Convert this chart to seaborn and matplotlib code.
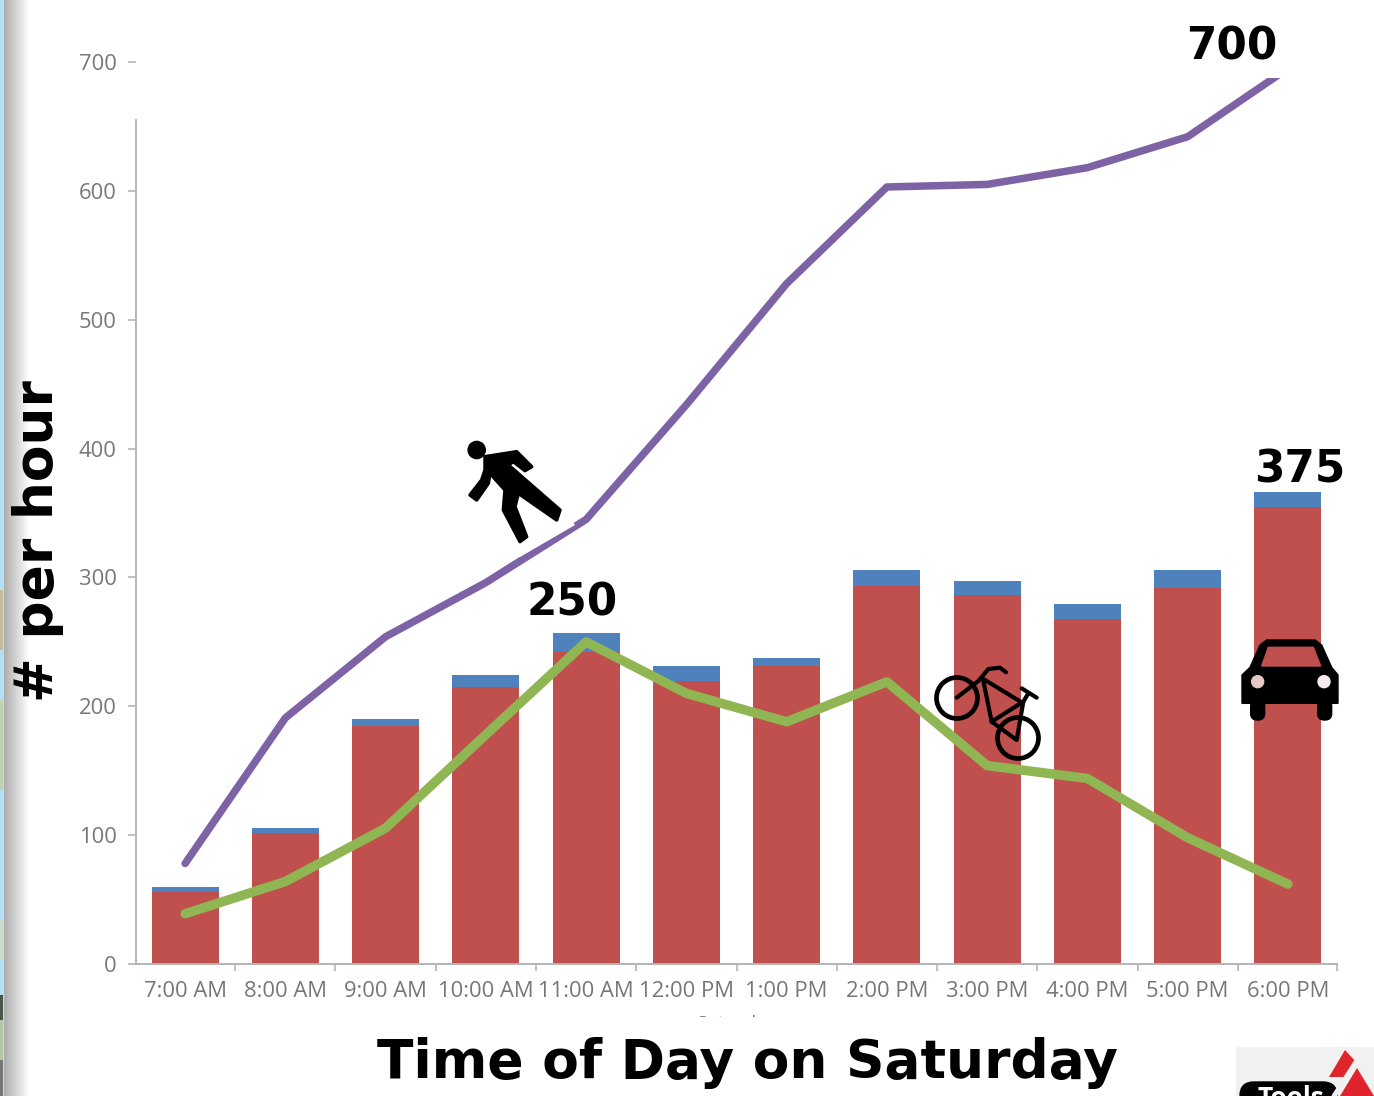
#---------------------------------------------------------------
"""
# Hourly counts on a Saturday
Cars as stacked bars, pedestrians and bicycles as lines, with the
icons and hand-placed labels of the original slide on top.
"""
#---------------------------------------------------------------
import matplotlib.pyplot as plt
import matplotlib.patches as mp
import numpy as np
import seaborn as sns

W, H = 1374, 1096

hours = ['7:00 AM', '8:00 AM', '9:00 AM', '10:00 AM', '11:00 AM', '12:00 PM',
         '1:00 PM', '2:00 PM', '3:00 PM', '4:00 PM', '5:00 PM', '6:00 PM']
cars = [56, 102, 185, 215, 242, 220, 231, 293, 286, 268, 292, 355]
cars_total = [60, 105.5, 190, 224, 257, 231, 237.5, 306, 297, 279, 306, 366]
pedestrians = [78, 191, 254, 296, 345, 434, 528, 603, 605, 618, 642, 695]
bicycles = [39, 64, 105.5, 178, 250, 210, 188, 219, 154, 144, 98, 62]
y_ticks = [0, 100, 200, 300, 400, 500, 600, 700]

RED = '#C0504D'
BLUE = '#4F81BD'
PURPLE = '#7D62A5'
GREEN = '#8FB653'
GREY_TEXT = '#777777'
AXIS = '#b4b4b4'
TICK_FONT = ['Open Sans', 'DejaVu Sans']


#---------------------------------------------------------------
def draw_chart(fig):
    ax = fig.add_axes([136 / W, 1 - 964 / H, (1337 - 136) / W, (964 - 62) / H])
    x = np.arange(len(hours))
    sns.barplot(x = hours, y = cars_total, color = BLUE, saturation = 1, width = 0.67, linewidth = 0, ax = ax)
    sns.barplot(x = hours, y = cars, color = RED, saturation = 1, width = 0.67, linewidth = 0, ax = ax)
    sns.lineplot(x = x, y = pedestrians, color = PURPLE, linewidth = 5.4, ax = ax, zorder = 5)
    sns.lineplot(x = x, y = bicycles, color = GREEN, linewidth = 6.8, ax = ax, zorder = 6)
    ax.set_xlim(-0.49, 11.49)
    ax.set_ylim(0, 700)
    ax.set_yticks(y_ticks)
    ax.set_xticks(x, hours)
    ax.set_xticks(np.append(x[1:] - 0.5, 11.49), minor = True)
    ax.tick_params(axis = 'x', which = 'major', length = 0, pad = 12, labelsize = 15.8, labelcolor = GREY_TEXT)
    ax.tick_params(axis = 'x', which = 'minor', bottom = True, length = 5, color = AXIS, width = 1.2)
    ax.tick_params(axis = 'y', left = True, length = 6, color = AXIS, width = 1.2, pad = 8,
                   labelsize = 15.8, labelcolor = GREY_TEXT)
    for t in ax.get_xticklabels() + ax.get_yticklabels():
        t.set_family(TICK_FONT)
    sns.despine(ax = ax, top = True, right = True)
    for s in ('left', 'bottom'):
        ax.spines[s].set_color(AXIS)
        ax.spines[s].set_linewidth(1.4)
    ax.spines['left'].set_bounds(0, 655)
    return ax


#---------------------------------------------------------------
def draw_edges(over):
    # slide edge on the left: desktop strip and soft shadow
    shade = np.linspace(0.68, 1, 26).reshape(1, -1)
    over.imshow(shade, cmap = 'gray', vmin = 0, vmax = 1, extent = (4, 30, H, 0), aspect = 'auto', zorder = 1)
    over.add_patch(mp.Rectangle((0, 0), 4, H, color = '#B5DFF5', lw = 0, zorder = 1))
    for y0, y1, c in [(590, 650, '#C5BC9C'), (700, 790, '#BFD3B4'), (920, 960, '#CBDACB'),
                      (995, 1020, '#4A564A'), (1020, 1060, '#B3C6A6'), (1060, 1096, '#777777')]:
        over.add_patch(mp.Rectangle((0, y0), 3, y1 - y0, color = c, lw = 0, zorder = 1))
    over.add_patch(mp.Rectangle((1290, 0), 84, 5, color = '#F3F3F3', lw = 0, zorder = 1))


#---------------------------------------------------------------
def draw_masks(over):
    # white patches pasted over the chart on the slide
    over.add_patch(mp.Rectangle((137, 0), 1237, 78, color = 'white', lw = 0, zorder = 2))
    over.add_patch(mp.Polygon([(575, 525), (520, 557), (452, 470), (500, 415)], color = 'white', lw = 0, zorder = 2))
    over.text(737, 1029, 'Saturday', fontsize = 14, color = GREY_TEXT, ha = 'center', va = 'baseline',
              family = TICK_FONT, zorder = 2)
    over.add_patch(mp.Rectangle((600, 1017), 300, 24, color = 'white', lw = 0, zorder = 3))


#---------------------------------------------------------------
def draw_walker(over):
    body = [(135, 110), (230, 95), (275, 140), (255, 152), (220, 125), (205, 135), (360, 270), (350, 300),
            (235, 220), (225, 260), (260, 350), (240, 365), (190, 270), (195, 210), (150, 160), (145, 190),
            (110, 240), (90, 225), (125, 180), (135, 150)]
    pts = [(440 + p[0] / 3, 420 + p[1] / 3) for p in body]
    over.add_patch(mp.Polygon(pts, fc = 'black', ec = 'black', lw = 2.5, joinstyle = 'round', zorder = 7))
    over.add_patch(mp.Circle((476.7, 450), 8.6, color = 'black', zorder = 7))


#---------------------------------------------------------------
def draw_bike(over):
    def px(pts):
        return [925 + p[0] / 3 for p in pts], [655 + p[1] / 3 for p in pts]
    for c in [(957, 698), (1018, 738)]:
        over.add_patch(mp.Circle(c, 20.5, fill = False, ec = 'black', lw = 3.4, zorder = 7))
    strokes = [[(95, 128), (160, 78), (190, 42), (225, 38), (243, 52)],
               [(175, 72), (290, 142)],
               [(175, 78), (200, 200), (295, 140), (275, 255), (200, 200)],
               [(290, 100), (335, 128)],
               [(310, 115), (295, 140)]]
    for pts in strokes:
        xs, ys = px(pts)
        over.plot(xs, ys, color = 'black', lw = 3, solid_capstyle = 'round', zorder = 7)


#---------------------------------------------------------------
def draw_car(over):
    def px(pts):
        return [(900 + p[0] / 3, 620 + p[1] / 3) for p in pts]
    shell = [(1026, 250), (1026, 165), (1050, 142), (1080, 75), (1100, 60), (1245, 60),
             (1265, 75), (1295, 142), (1314, 165), (1314, 250)]
    window = [(1085, 138), (1105, 82), (1240, 82), (1262, 138)]
    over.add_patch(mp.Polygon(px(shell), color = 'black', zorder = 7))
    over.add_patch(mp.Polygon(px(window), color = RED, zorder = 8))
    for cx in (1073, 1274):
        over.add_patch(mp.FancyBboxPatch(px([(cx - 21, 240)])[0], 14, 20, boxstyle = 'round,pad=0,rounding_size=6.5',
                                         color = 'black', zorder = 7))
    over.add_patch(mp.Circle(px([(1073, 185)])[0], 6, color = '#E8C8C6', zorder = 8))
    over.add_patch(mp.Circle(px([(1272, 185)])[0], 6, color = '#F6ECEC', zorder = 8))


#---------------------------------------------------------------
def draw_logo(over):
    over.add_patch(mp.Rectangle((1236, 1047), 138, 49, color = '#F1F1F1', lw = 0, zorder = 2))
    over.add_patch(mp.FancyBboxPatch((1240, 1082), 97, 30, boxstyle = 'round,pad=0,rounding_size=14',
                                     color = 'black', zorder = 3))
    over.add_patch(mp.Polygon([(1345, 1050), (1329, 1077), (1346, 1077), (1356, 1062)], color = '#E0242B', lw = 0, zorder = 3))
    over.add_patch(mp.Polygon([(1357, 1068), (1374, 1096), (1340, 1096)], color = '#E0242B', lw = 0, zorder = 3))
    over.plot([1356, 1334], [1062, 1096], color = '#F1F1F1', lw = 3.5, zorder = 4)
    over.text(1258, 1106, 'Tools', fontsize = 19, fontweight = 'bold', color = 'white', zorder = 5, va = 'baseline')


#---------------------------------------------------------------
def draw_labels(over):
    big = dict(color = 'black', fontweight = 'bold', family = 'DejaVu Sans', zorder = 9)
    for label, cx, cy in [('700', 1232, 47), ('375', 1300, 470), ('250', 572, 603)]:
        over.text(cx, cy, label, fontsize = 31.5, ha = 'center', va = 'center', **big)
    over.text(747, 1063, 'Time of Day on Saturday', fontsize = 38.4, ha = 'center', va = 'center', **big)
    over.text(38, 541, '# per hour', fontsize = 38.4, rotation = 90, ha = 'center', va = 'center', **big)


#---------------------------------------------------------------
def main():
    sns.set_style('white')
    plt.rcParams['font.family'] = TICK_FONT
    fig = plt.figure(figsize = (W / 100, H / 100), dpi = 100)
    draw_chart(fig)
    over = fig.add_axes([0, 0, 1, 1], facecolor = 'none')
    over.set_axis_off()
    draw_edges(over)
    draw_masks(over)
    draw_walker(over)
    draw_bike(over)
    draw_car(over)
    draw_logo(over)
    draw_labels(over)
    over.set_xlim(0, W)
    over.set_ylim(H, 0)
    fig.savefig('out.png', dpi = 100)


#---------------------------------------------------------------
if __name__ == '__main__':
    main()
